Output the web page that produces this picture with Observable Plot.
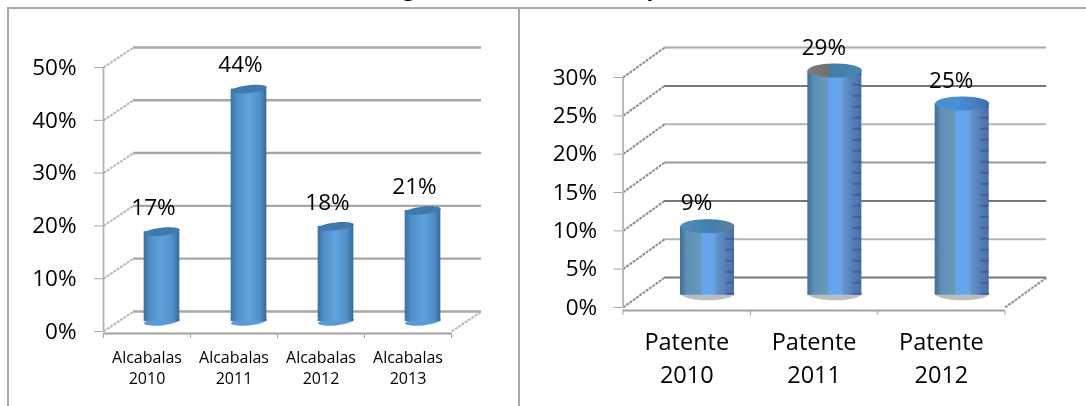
<!DOCTYPE html>
<html><head><meta charset="utf-8">
<script src="https://cdn.jsdelivr.net/npm/d3@7"></script>
<script src="https://cdn.jsdelivr.net/npm/@observablehq/plot@0.6"></script>
<style>
html,body{margin:0;padding:0;background:#fff;width:1086px;height:406px;overflow:hidden;font-family:"Open Sans",sans-serif}
.line{position:absolute;background:#a9a9a9}
#title{position:absolute;left:378px;top:-27px;font:bold 27.5px/28px Lato,sans-serif;color:#000;white-space:nowrap}
.chart{position:absolute;top:0}
.chart svg{filter:blur(.7px);display:block}
</style></head><body>
<div id="title">Ingresos de Alcabalas y Patente</div>
<div class="line" style="left:7px;top:7px;width:1079px;height:2px"></div>
<div class="line" style="left:7px;top:8px;width:1.5px;height:398px"></div>
<div class="line" style="left:518px;top:8px;width:2px;height:398px"></div>
<div class="chart" id="left" style="left:0"></div>
<div class="chart" id="right" style="left:520px"></div>
<script>
const alcabalasCategories = ["Alcabalas\n2010","Alcabalas\n2011","Alcabalas\n2012","Alcabalas\n2013"];
const alcabalasValues = [17, 44, 18, 21];
const alcabalasTicks = [0, 10, 20, 30, 40, 50];
const patenteCategories = ["Patente\n2010","Patente\n2011","Patente\n2012"];
const patenteValues = [9, 29.3, 25];
const patenteTicks = [0, 5, 10, 15, 20, 25, 30];

const ellipseSymbol = (k, deg) => ({
  draw(ctx, size) {
    const rx = Math.sqrt(size / Math.PI), ry = rx * k, a = deg * Math.PI / 180;
    const c = 0.5523, P = (x, y) => [x * Math.cos(a) - y * Math.sin(a), x * Math.sin(a) + y * Math.cos(a)];
    ctx.moveTo(...P(rx, 0));
    ctx.bezierCurveTo(...P(rx, c * ry), ...P(c * rx, ry), ...P(0, ry));
    ctx.bezierCurveTo(...P(-c * rx, ry), ...P(-rx, c * ry), ...P(-rx, 0));
    ctx.bezierCurveTo(...P(-rx, -c * ry), ...P(-c * rx, -ry), ...P(0, -ry));
    ctx.bezierCurveTo(...P(c * rx, -ry), ...P(rx, -c * ry), ...P(rx, 0));
    ctx.closePath();
  }
});

function panel(o) {
  const n = o.cats.length, max = o.ticks[o.ticks.length - 1];
  const rows = o.values.map((v, i) => ({v, i, c: i + 0.5 + o.dX / 2, top: v + o.base}));
  const gridStroke = (d, i) => o.gridTone ? o.gridTone(i) : "#a6a6a6";
  const marks = [
    Plot.ruleY(o.ticks, {y: d => d + o.dY, x1: o.dX, x2: n + o.dX, stroke: gridStroke, strokeWidth: o.gridWidth}),
    Plot.link(o.ticks, {x1: 0, y1: d => d, x2: o.dX, y2: d => d + o.dY, stroke: o.diagTone, strokeWidth: 2, strokeDasharray: "3 1"}),
    Plot.link([0], {x1: n, y1: 0, x2: n + o.dX, y2: o.dY, stroke: o.diagTone, strokeWidth: 2, strokeDasharray: "3 1"}),
    Plot.ruleX([0], {y1: 0, y2: max, stroke: "#b5b5b5", strokeWidth: 1.8}),
    Plot.ruleY([0], {x1: 0, x2: n, dy: o.floorDy, stroke: "#a0a0a0", strokeWidth: 2.2}),
    Plot.axisX({ticks: d3.range(n + 1), tickFormat: () => null, tickSize: 5, dy: o.floorDy, stroke: "#a6a6a6", label: null}),
    Plot.axisY({ticks: o.ticks, tickSize: 9, tickPadding: o.tickPad, tickFormat: d => d + "%", fontSize: 22.5, stroke: "#a6a6a6", fill: "#000", label: null}),
    Plot.text(o.cats, {x: (d, i) => i + 0.5, y: 0, dy: o.catDy, text: d => d, lineAnchor: "top", textAnchor: "middle", fontSize: o.catSize, lineHeight: o.catLead, fill: "#000"}),
    Plot.dot(rows, {x: "c", y: o.base, dy: o.bottomDy, r: o.rx, symbol: ellipseSymbol(o.ryK, o.tilt), fill: o.bottomFill, stroke: "none"}),
    Plot.rect(rows, {x1: d => d.c - o.barW / 2, x2: d => d.c + o.barW / 2, y1: o.base, y2: "top", fill: o.barFill}),
  ];
  if (o.ribs) marks.push(
    Plot.ruleX(rows, {x: d => d.c + o.barW / 2, dx: -5, y1: o.base, y2: "top", stroke: "#30508a", strokeOpacity: .55, strokeWidth: 9, strokeDasharray: "2 9"})
  );
  marks.push(
    Plot.dot(rows, {x: "c", y: "top", r: o.rx, symbol: ellipseSymbol(o.ryK, o.tilt), fill: o.capFill, stroke: "none"}),
    Plot.text(rows, {x: "c", y: "top", dx: o.labelDx, dy: o.labelDy, text: d => Math.round(d.v) + "%", fontSize: 22.5, fill: "#000"})
  );
  return Plot.plot({
    width: o.width, height: 406, marginLeft: o.ml, marginRight: o.mr, marginTop: o.mt, marginBottom: o.mb,
    x: {type: "linear", domain: [0, n], axis: null},
    y: {domain: [0, max], axis: null},
    style: {background: "transparent", fontFamily: "'Open Sans', sans-serif", overflow: "visible"},
    marks
  });
}

const leftChart = panel({
  cats: alcabalasCategories, values: alcabalasValues, ticks: alcabalasTicks,
  width: 520, ml: 103, mr: 69, mt: 67, mb: 75,
  dX: .345, dY: 3.8, base: 1.9, barW: .41, rx: 18, ryK: .22, tilt: -6, gridWidth: 2.4, diagTone: "#b8b8b8",
  floorDy: 2, tickPad: 18, catDy: 17, catSize: 16, catLead: 1.31, bottomDy: 0,
  barFill: "url(#barA)", capFill: "#3f79ad", bottomFill: "#5b9bd5", labelDx: -8.5, labelDy: -24, ribs: false
});
const rightChart = panel({
  cats: patenteCategories, values: patenteValues, ticks: patenteTicks,
  width: 566, ml: 102.6, mr: 81.4, mt: 77, mb: 99,
  dX: .326, dY: 3.9, base: 1.6, barW: .424, rx: 27, ryK: .26, tilt: 0, gridWidth: 2, diagTone: "#8e8e8e",
  gridTone: i => ["#74787e", "#b0b6c0", "#74787e", "#94989e", "#b0b6c0", "#74787e", "#aaaaaa"][i],
  floorDy: 3, tickPad: 17, catDy: 19, catSize: 23.5, catLead: 1.4, bottomDy: -2,
  barFill: "url(#barB)", capFill: (d, i) => `url(#cap${i})`, bottomFill: "#bdbdbd", labelDx: -11, labelDy: -23, ribs: true
});
document.getElementById("left").append(leftChart);
document.getElementById("right").append(rightChart);

const stops = a => a.map(([o, c]) => `<stop offset="${o}" stop-color="${c}"/>`).join("");
d3.select(leftChart).append("defs").html(
  `<linearGradient id="barA">${stops([[0,"#3a70a4"],[.18,"#4f8fc8"],[.5,"#60a2de"],[.82,"#4f8fc8"],[1,"#38699a"]])}</linearGradient>`);
d3.select(rightChart).append("defs").html(
  `<linearGradient id="barB">${stops([[0,"#3f6c96"],[.12,"#5f8fb5"],[.38,"#6a98bb"],[.4,"#62a4ee"],[.62,"#68a6ec"],[.7,"#5f8fc8"],[1,"#4a6ea6"]])}</linearGradient>
   <linearGradient id="cap0">${stops([[0,"#4f8dba"],[.6,"#3f80b0"],[1,"#6a7f98"]])}</linearGradient>
   <linearGradient id="cap1">${stops([[0,"#7a7a7a"],[.38,"#707070"],[.4,"#3f7da6"],[1,"#4a86b0"]])}</linearGradient>
   <linearGradient id="cap2">${stops([[0,"#4a8fc8"],[.4,"#4b90d8"],[1,"#3f6fb0"]])}</linearGradient>`);
</script>
</body></html>
